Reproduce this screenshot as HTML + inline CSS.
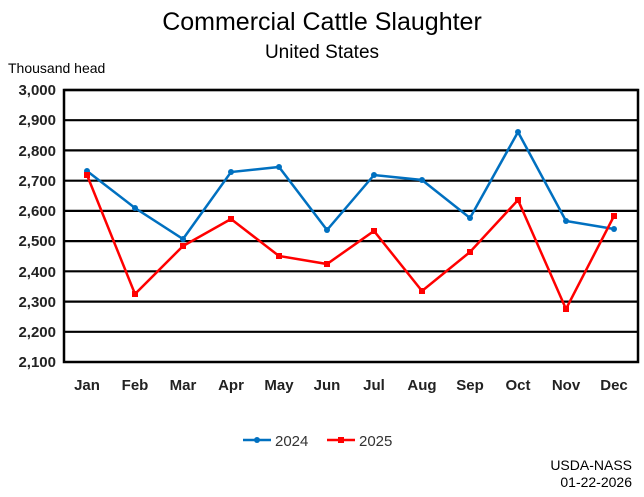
<!DOCTYPE html>
<html><head><style>body{margin:0;background:#fff;width:644px;height:492px;overflow:hidden}</style></head><body>
<svg width="644" height="492" xmlns="http://www.w3.org/2000/svg" font-family="Liberation Sans, sans-serif">
<text x="322" y="30" font-size="25" text-anchor="middle">Commercial Cattle Slaughter</text>
<text x="322" y="58" font-size="19" text-anchor="middle">United States</text>
<text x="8" y="73" font-size="14">Thousand head</text>
<g stroke="#000" stroke-width="2.2">
<line x1="64" y1="90" x2="638" y2="90"/><line x1="64" y1="120.2" x2="638" y2="120.2"/><line x1="64" y1="150.4" x2="638" y2="150.4"/><line x1="64" y1="180.7" x2="638" y2="180.7"/><line x1="64" y1="210.9" x2="638" y2="210.9"/><line x1="64" y1="241.1" x2="638" y2="241.1"/><line x1="64" y1="271.3" x2="638" y2="271.3"/><line x1="64" y1="301.6" x2="638" y2="301.6"/><line x1="64" y1="331.8" x2="638" y2="331.8"/>
</g>
<rect x="64" y="90" width="574" height="272" fill="none" stroke="#000" stroke-width="2.5"/>
<g font-size="15" font-weight="bold" text-anchor="end" fill="#222">
<text x="56" y="95">3,000</text><text x="56" y="125">2,900</text><text x="56" y="156">2,800</text><text x="56" y="186">2,700</text><text x="56" y="216">2,600</text><text x="56" y="246">2,500</text><text x="56" y="277">2,400</text><text x="56" y="307">2,300</text><text x="56" y="337">2,200</text><text x="56" y="367">2,100</text>
</g>
<g font-size="15" font-weight="bold" text-anchor="middle" fill="#222">
<text x="87" y="390">Jan</text><text x="135" y="390">Feb</text><text x="183" y="390">Mar</text><text x="231" y="390">Apr</text><text x="279" y="390">May</text><text x="327" y="390">Jun</text><text x="374" y="390">Jul</text><text x="422" y="390">Aug</text><text x="470" y="390">Sep</text><text x="518" y="390">Oct</text><text x="566" y="390">Nov</text><text x="614" y="390">Dec</text>
</g>
<polyline fill="none" stroke="#0070C0" stroke-width="2.5" points="87,171 135,208 183,239 231,172 279,167 327,230 374,175 422,180 470,218 518,132 566,221 614,229"/>
<g fill="#0070C0">
<circle cx="87" cy="171" r="3"/><circle cx="135" cy="208" r="3"/><circle cx="183" cy="239" r="3"/><circle cx="231" cy="172" r="3"/><circle cx="279" cy="167" r="3"/><circle cx="327" cy="230" r="3"/><circle cx="374" cy="175" r="3"/><circle cx="422" cy="180" r="3"/><circle cx="470" cy="218" r="3"/><circle cx="518" cy="132" r="3"/><circle cx="566" cy="221" r="3"/><circle cx="614" cy="229" r="3"/>
</g>
<polyline fill="none" stroke="#FF0000" stroke-width="2.5" points="87,175 135,294 183,246 231,219 279,256 327,264 374,231 422,291 470,252 518,200 566,309 614,216"/>
<g fill="#FF0000">
<rect x="84" y="172" width="6" height="6"/><rect x="132" y="291" width="6" height="6"/><rect x="180" y="243" width="6" height="6"/><rect x="228" y="216" width="6" height="6"/><rect x="276" y="253" width="6" height="6"/><rect x="324" y="261" width="6" height="6"/><rect x="371" y="228" width="6" height="6"/><rect x="419" y="288" width="6" height="6"/><rect x="467" y="249" width="6" height="6"/><rect x="515" y="197" width="6" height="6"/><rect x="563" y="306" width="6" height="6"/><rect x="611" y="213" width="6" height="6"/>
</g>
<line x1="243" y1="440" x2="271" y2="440" stroke="#0070C0" stroke-width="2.5"/><circle cx="257" cy="440" r="3" fill="#0070C0"/>
<text x="275" y="446" font-size="15" fill="#333">2024</text>
<line x1="327" y1="440" x2="355" y2="440" stroke="#FF0000" stroke-width="2.5"/><rect x="338" y="437" width="6" height="6" fill="#FF0000"/>
<text x="359" y="446" font-size="15" fill="#333">2025</text>
<text x="632" y="470" font-size="14" text-anchor="end">USDA-NASS</text>
<text x="632" y="487" font-size="14" text-anchor="end">01-22-2026</text>
</svg>
</body></html>
